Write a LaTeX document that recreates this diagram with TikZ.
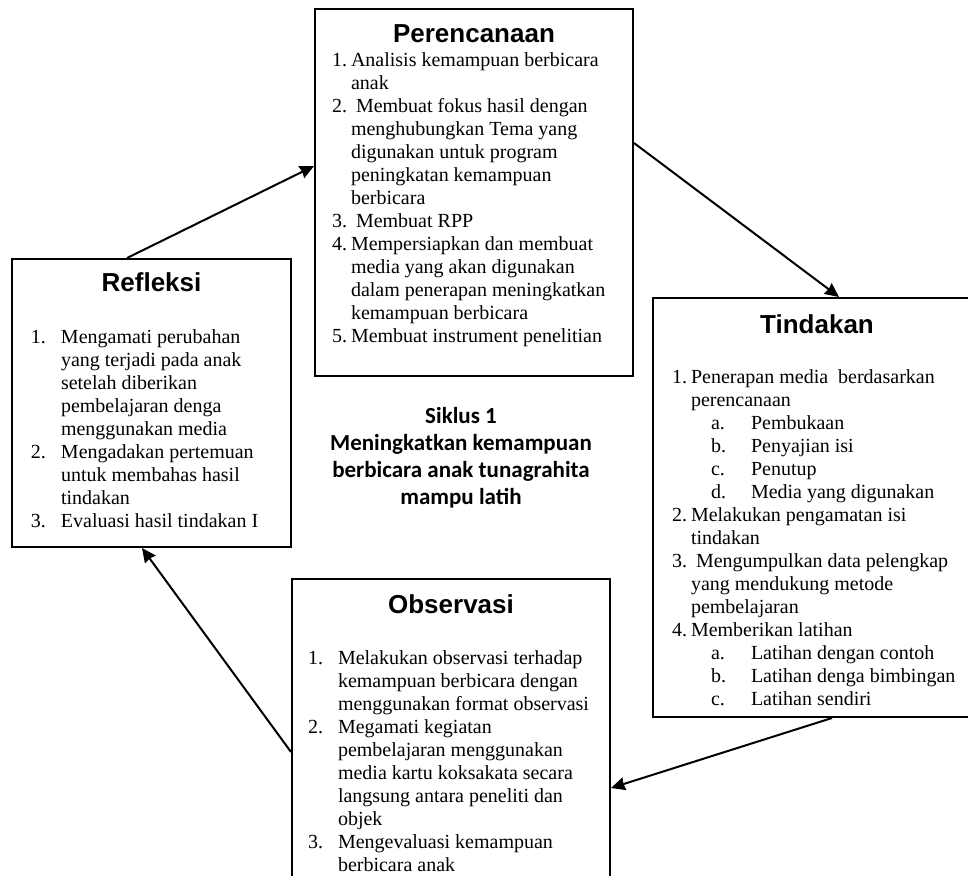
\documentclass[tikz,border=0pt]{standalone}
\usepackage{fontspec}
\setmainfont{Liberation Serif}
\newfontfamily\headfont{Liberation Sans}
\newfontfamily\cyclefont{Carlito}
\usepackage{tikz}
\usetikzlibrary{arrows.meta}
\newcommand{\sublbl}[1]{\hspace{10pt}\makebox[20pt][l]{#1}}

\begin{document}
\begin{tikzpicture}[x=0.5pt,y=-0.5pt,>={Stealth[length=7pt,width=6.5pt,inset=0.5pt]},line width=1pt]
\tikzstyle{box}=[draw=black,rectangle,inner sep=0pt]
\tikzstyle{head}=[anchor=base,inner sep=0pt,font=\headfont\bfseries\fontsize{13}{15}\selectfont]
\tikzstyle{items}=[anchor=base west,inner sep=0pt,font=\fontsize{10}{11.5}\selectfont]
\clip (0,0) rectangle (968,875);

        \node[box,minimum width=159pt,minimum height=183.5pt]   (plan) at (474,192.5) {};
        \node[head]   (planhead) at (474,42)  {Perencanaan};
        \node[items]  (planlist) at (331,66)  {\begin{tabular}[t]{@{}p{9.5pt}@{}l@{}}
1.&Analisis kemampuan berbicara\\
  &anak\\
2.&\hspace{2.5pt}Membuat fokus hasil dengan\\
  &menghubungkan Tema yang\\
  &digunakan untuk program\\
  &peningkatan kemampuan\\
  &berbicara\\
3.&\hspace{2.5pt}Membuat RPP\\
4.&Mempersiapkan dan membuat\\
  &media yang akan digunakan\\
  &dalam penerapan meningkatkan\\
  &kemampuan berbicara\\
5.&Membuat instrument penelitian
\end{tabular}};

        \node[box,minimum width=164pt,minimum height=209.5pt]   (act) at (817,507.5) {};
        \node[head]   (acthead) at (817,333) {Tindakan};
        \node[items]  (actlist) at (671,383) {\begin{tabular}[t]{@{}p{9.5pt}@{}l@{}}
1.&Penerapan media \ berdasarkan\\
  &perencanaan\\
  &\sublbl{a.}Pembukaan\\
  &\sublbl{b.}Penyajian isi\\
  &\sublbl{c.}Penutup\\
  &\sublbl{d.}Media yang digunakan\\
2.&Melakukan pengamatan isi\\
  &tindakan\\
3.&\hspace{2.5pt}Mengumpulkan data pelengkap\\
  &yang mendukung metode\\
  &pembelajaran\\
4.&Memberikan latihan\\
  &\sublbl{a.}Latihan dengan contoh\\
  &\sublbl{b.}Latihan denga bimbingan\\
  &\sublbl{c.}Latihan sendiri
\end{tabular}};

        \node[box,minimum width=159pt,minimum height=160pt]   (obs) at (451,739) {};
        \node[head]   (obshead) at (451,613) {Observasi};
        \node[items]  (obslist) at (307,664) {\begin{tabular}[t]{@{}p{15pt}@{}l@{}}
1.&Melakukan observasi terhadap\\
  &kemampuan berbicara dengan\\
  &menggunakan format observasi\\
2.&Megamati kegiatan\\
  &pembelajaran menggunakan\\
  &media kartu koksakata secara\\
  &langsung antara peneliti dan\\
  &objek\\
3.&Mengevaluasi kemampuan\\
  &berbicara anak
\end{tabular}};

        \node[box,minimum width=139.5pt,minimum height=144pt]   (refl) at (151.5,403) {};
        \node[head]   (reflhead) at (151.5,291) {Refleksi};
        \node[items]  (refllist) at (30,343) {\begin{tabular}[t]{@{}p{15pt}@{}l@{}}
1.&Mengamati perubahan\\
  &yang terjadi pada anak\\
  &setelah diberikan\\
  &pembelajaran denga\\
  &menggunakan media\\
2.&Mengadakan pertemuan\\
  &untuk membahas hasil\\
  &tindakan\\
3.&Evaluasi hasil tindakan I
\end{tabular}};

        \node[anchor=base,inner sep=0pt,font=\cyclefont\bfseries\fontsize{11.5}{13.5}\selectfont]
              (cycle) at (461,423) {\begin{tabular}[t]{@{}c@{}}
Siklus 1\\
Meningkatkan kemampuan\\
berbicara anak tunagrahita\\
mampu latih
\end{tabular}};

        \path[->]
        ([xshift=58pt]refl.north west)   edge  ([yshift=-79pt]plan.north west)
        ([yshift=-67.5pt]plan.north east) edge ([xshift=93.5pt]act.north west)
        ([xshift=90pt]act.south west)    edge  ([yshift=-105pt]obs.north east)
        ([yshift=-87pt]obs.north west)   edge  ([xshift=65.5pt]refl.south west)
        ; % cycle arrows

\end{tikzpicture}
\end{document}
